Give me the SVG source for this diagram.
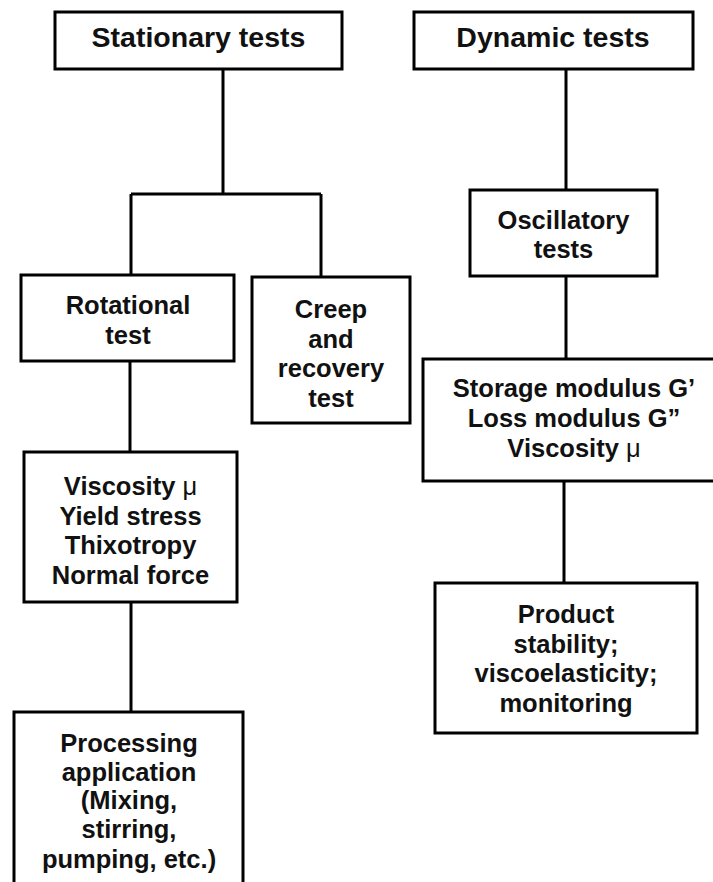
<svg xmlns="http://www.w3.org/2000/svg" width="713" height="882" viewBox="0 0 713 882">
<style>
.box{fill:#fff;stroke:#000;stroke-width:3}
.ln{fill:none;stroke:#000;stroke-width:3}
.t{font-family:"Liberation Sans",Arial,sans-serif;font-weight:bold;font-size:25.5px;fill:#111;text-anchor:middle}
.h{font-size:28.5px}
.mu{font-weight:normal}
</style>
<rect width="713" height="882" fill="#fff"/>
<g id="connectors">
<path class="ln" d="M223 69V194M131 194H321M131 194V275M321 194V277"/>
<path class="ln" d="M130 361V452" stroke-width="2"/>
<path class="ln" d="M131 602V712"/>
<path class="ln" d="M566 69V190M566 276V359M564 481V583"/>
</g>
<g id="stationary">
<rect class="box" x="55" y="12" width="287" height="57"/>
<text class="t h" x="198.5" y="47">Stationary tests</text>
</g>
<g id="dynamic">
<rect class="box" x="414" y="12" width="279" height="57"/>
<text class="t h" x="553" y="47">Dynamic tests</text>
</g>
<g id="oscillatory">
<rect class="box" x="470" y="190" width="187" height="86"/>
<text class="t" x="563.5" y="229">Oscillatory</text>
<text class="t" x="563.5" y="258">tests</text>
</g>
<g id="rotational">
<rect class="box" x="21" y="275" width="213" height="86"/>
<text class="t" x="128" y="314">Rotational</text>
<text class="t" x="128" y="344">test</text>
</g>
<g id="creep">
<rect class="box" x="252" y="277" width="158" height="146"/>
<text class="t" x="331" y="318">Creep</text>
<text class="t" x="331" y="347.5">and</text>
<text class="t" x="331" y="377">recovery</text>
<text class="t" x="331" y="406.5">test</text>
</g>
<g id="storage">
<rect class="box" x="423" y="359" width="302" height="122"/>
<text class="t" x="574" y="397">Storage modulus G’</text>
<text class="t" x="574" y="427">Loss modulus G”</text>
<text class="t" x="574" y="457">Viscosity <tspan class="mu">μ</tspan></text>
</g>
<g id="viscosity">
<rect class="box" x="24" y="452" width="213" height="150"/>
<text class="t" x="130.5" y="495">Viscosity <tspan class="mu">μ</tspan></text>
<text class="t" x="130.5" y="524.5">Yield stress</text>
<text class="t" x="130.5" y="554">Thixotropy</text>
<text class="t" x="130.5" y="583.5">Normal force</text>
</g>
<g id="product">
<rect class="box" x="435" y="583" width="262" height="150"/>
<text class="t" x="566" y="623">Product</text>
<text class="t" x="566" y="653">stability;</text>
<text class="t" x="566" y="682">viscoelasticity;</text>
<text class="t" x="566" y="712">monitoring</text>
</g>
<g id="processing">
<rect class="box" x="14" y="712" width="229" height="190"/>
<text class="t" x="129" y="752">Processing</text>
<text class="t" x="129" y="780.5">application</text>
<text class="t" x="129" y="809">(Mixing,</text>
<text class="t" x="129" y="838">stirring,</text>
<text class="t" x="129" y="867.5">pumping, etc.)</text>
</g>
</svg>
